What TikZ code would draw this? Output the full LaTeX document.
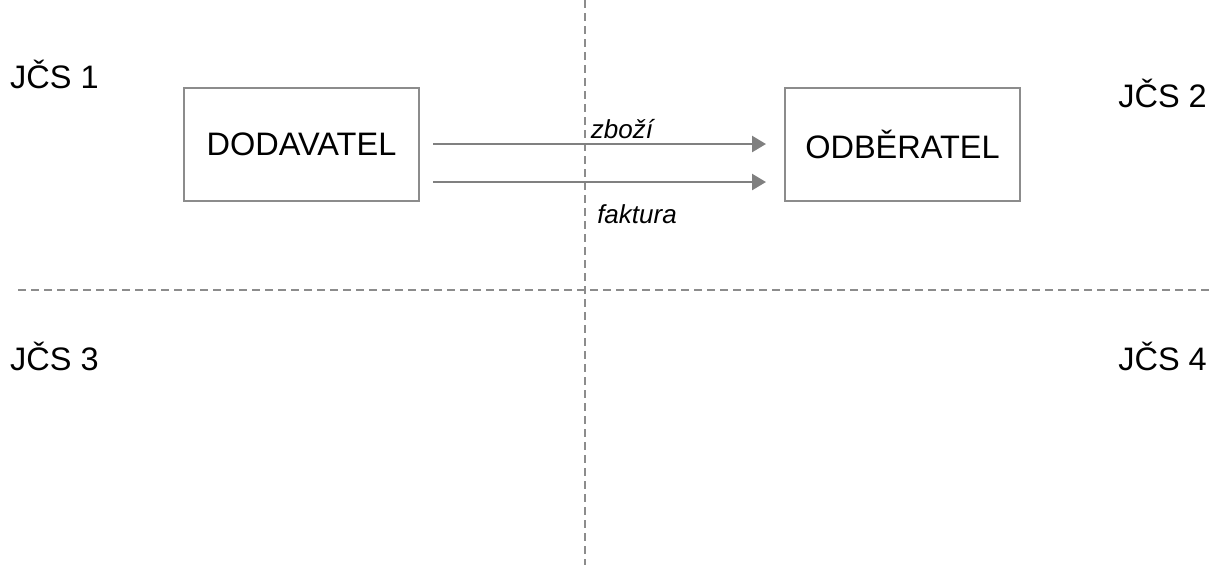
\documentclass[tikz,border=0pt]{standalone}
\usepackage{fontspec}
\setmainfont{Liberation Sans}
\usetikzlibrary{arrows.meta}
\definecolor{boxgray}{RGB}{140,140,140}
\definecolor{arrgray}{RGB}{128,128,128}
\definecolor{dashgray}{RGB}{140,140,140}
\begin{document}
\begin{tikzpicture}[x=1pt,y=-1pt,
  box/.style={draw=boxgray,line width=2pt,minimum width=235pt,minimum height=113pt,inner sep=0pt,font=\fontsize{32.5}{38}\selectfont},
  lbl/.style={font=\fontsize{32.5}{38}\selectfont,inner sep=0pt},
  flowlbl/.style={font=\fontsize{26}{31}\selectfont\itshape,inner sep=0pt},
  arr/.style={draw=arrgray,line width=2.5pt,-{Triangle[length=14pt,width=16pt]}},
  sep/.style={draw=dashgray,line width=2pt,dash pattern=on 8pt off 5pt}]
\useasboundingbox (0,0) rectangle (1213,565);
\coordinate (vtop) at (585,0);
\coordinate (vbot) at (585,565);
\coordinate (hl) at (18,290);
\coordinate (hr) at (1210,290);
\draw[sep] (vtop) -- (vbot);
\draw[sep] (hl) -- (hr);
\node[box] (dod) at (301.5,144) {\raisebox{-3pt}{DODAVATEL}};
\node[box] (odb) at (902.5,144) {\raisebox{-3pt}{ODBĚRATEL}};
\draw[arr] ([xshift=13pt]dod.east) -- ([xshift=-18pt]odb.west);
\draw[arr] ([xshift=13pt,yshift=-38pt]dod.east) -- ([xshift=-18pt,yshift=-38pt]odb.west);
\node[flowlbl] (zb) at (622,129) {zboží};
\node[flowlbl] (fa) at (637,214) {faktura};
\node[lbl,anchor=west] (j1) at (10,74) {JČS 1};
\node[lbl,anchor=east] (j2) at (1207,93) {JČS 2};
\node[lbl,anchor=west] (j3) at (10,356) {JČS 3};
\node[lbl,anchor=east] (j4) at (1207,356) {JČS 4};
\end{tikzpicture}
\end{document}
